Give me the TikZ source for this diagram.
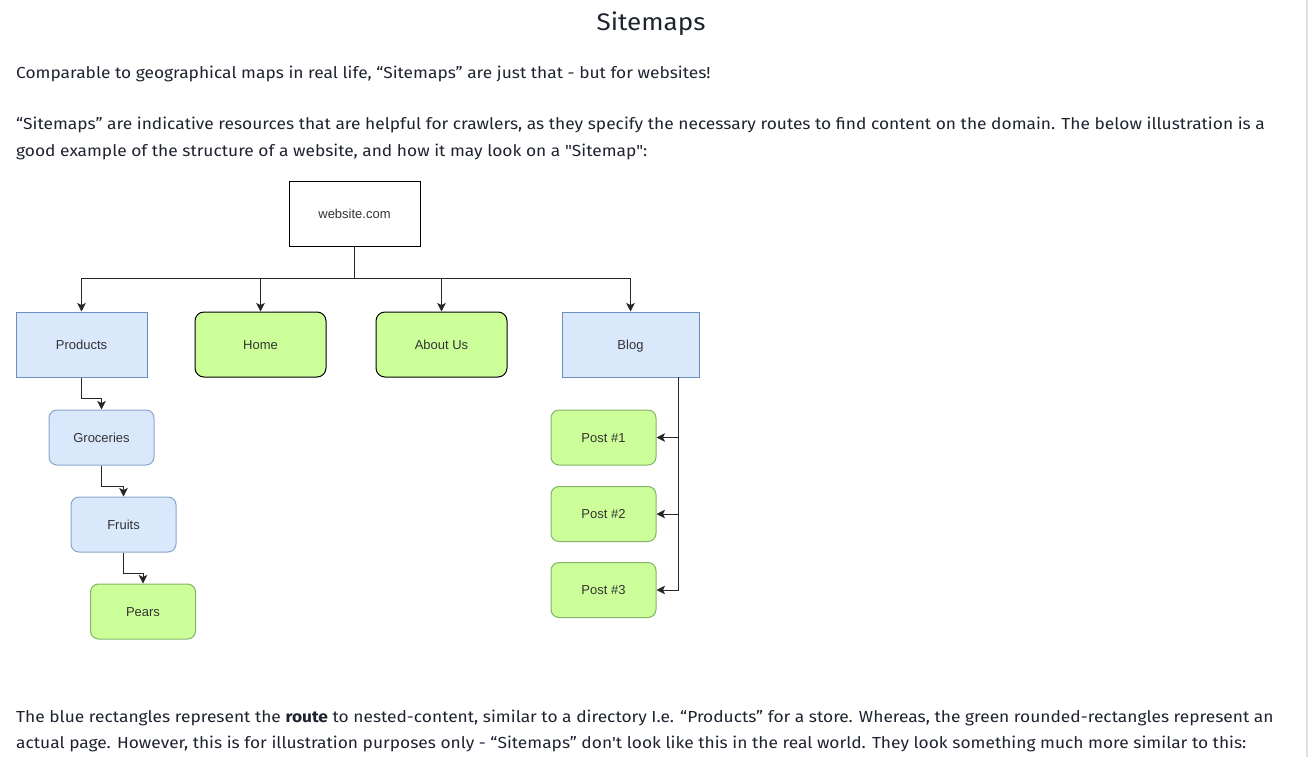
\documentclass[tikz,border=0pt]{standalone}
\usepackage{fontspec}
\setmainfont{Fira Sans}[Ligatures=TeXOff, FakeStretch=1.085]
\newfontfamily\boxfont{Liberation Sans}
\usetikzlibrary{arrows.meta}

\definecolor{routefill}{HTML}{DAE8FC}
\definecolor{routeline}{HTML}{6C8EBF}
\definecolor{pagefill}{HTML}{CCFF99}
\definecolor{pageline}{HTML}{82B366}
\definecolor{bodytext}{HTML}{1E2330}

\begin{document}
\begin{tikzpicture}[x=1pt, y=-1pt,
        every node/.style={text=black!80},
        para/.style={anchor=base west, inner sep=0pt, text=bodytext, font=\fontsize{16}{20}\selectfont},
        box/.style={draw, line width=1pt, font=\boxfont\fontsize{13}{15}\selectfont, text height=10pt, text depth=1pt, minimum width=131pt, minimum height=65pt},
        route/.style={box, draw=routeline, fill=routefill},
        page/.style={box, fill=pagefill, rounded corners=9pt},
        leaf/.style={box, draw=pageline, fill=pagefill, rounded corners=8pt, minimum width=105pt, minimum height=55pt},
        sub/.style={box, draw=routeline!80, fill=routefill, rounded corners=8pt, minimum width=105pt, minimum height=55pt},
        link/.style={line width=1pt, black!85, -{Stealth[length=8.5pt, width=8.5pt, inset=2pt]}}]
        \useasboundingbox (0,0) rectangle (1312,757);
        \draw[black!12, line width=1.5pt] (1307,0) -- (1307,757); % scroll edge

        % page text
        \node[anchor=base, inner sep=0pt, text=bodytext, font=\fontsize{24}{30}\selectfont] (title) at (651,31) {Sitemaps};
        \node[para] (p1) at (16,79) {Comparable to geographical maps in real life, “Sitemaps” are just that - but for websites!};
        \node[para] (p2a) at (16,130) {“Sitemaps” are indicative resources that are helpful for crawlers, as they specify the necessary routes to find content on the domain. The below illustration is a};
        \node[para] (p2b) at (16,157) {good example of the structure of a website, and how it may look on a "Sitemap":};
        \node[para] (p3a) at (16,722) {The blue rectangles represent the \textbf{route} to nested-content, similar to a directory I.e. “Products” for a store. Whereas, the green rounded-rectangles represent an};
        \node[para] (p3b) at (16,748) {actual page. However, this is for illustration purposes only - “Sitemaps” don't look like this in the real world. They look something much more similar to this:};

        % sitemap
        \node[box, fill=white] (site) at (354.5,214) {website.com};
        \node[route] (products) at (81.5,344.5) {Products};
        \node[page] (home) at (260.5,344.5) {Home};
        \node[page] (about) at (441.5,344.5) {About Us};
        \node[route, minimum width=137pt] (blog) at (630.5,344.5) {Blog};
        \node[sub] (groceries) at (101.5,437.5) {Groceries};
        \node[sub] (fruits) at (123.5,524.5) {Fruits};
        \node[leaf] (pears) at (143,611.5) {Pears};
        \node[leaf] (post1) at (603.5,437.5) {Post \#1};
        \node[leaf] (post2) at (603.5,514) {Post \#2};
        \node[leaf] (post3) at (603.5,590) {Post \#3};

        \coordinate (bus) at (354.5,278);
        \draw[line width=1pt, black!85] (site.south) -- (bus);
        \foreach \n in {products, home, about, blog}
            \draw[link] (bus) -| (\n.north);

        \draw[link] (products.south) |- ++(20,21) -- (groceries.north);
        \draw[link] (groceries.south) |- ++(22,21) -- (fruits.north);
        \draw[link] (fruits.south) |- ++(19.5,21) -- (pears.north);

        \coordinate (blogdrop) at (678,377);
        \foreach \n in {post1, post2, post3}
            \draw[link] (blogdrop) |- (\n.east);
\end{tikzpicture}
\end{document}
